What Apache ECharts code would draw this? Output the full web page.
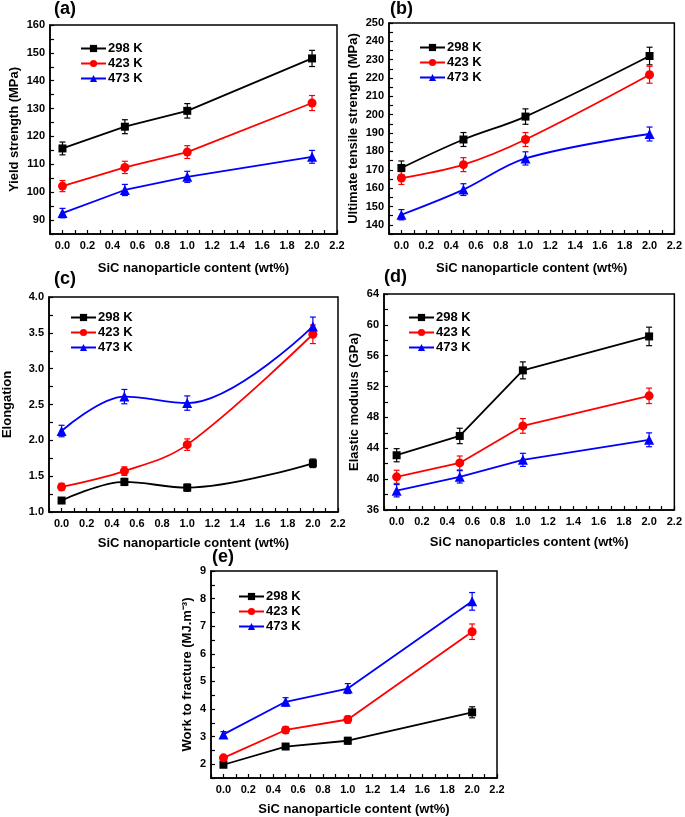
<!DOCTYPE html>
<html>
<head>
<meta charset="utf-8">
<script src="https://cdn.jsdelivr.net/npm/echarts@6/dist/echarts.min.js"></script>
<style>
  html, body { margin: 0; padding: 0; background: #fff; }
  #chart { width: 685px; height: 817px; }
</style>
</head>
<body>
<div id="chart"></div>
<script>
// SiC content (wt%) and the three test temperatures
var xVals = [0, 0.5, 1.0, 2.0];
var tempNames = ['298 K', '423 K', '473 K'];
var tempColors = ['#000000', '#ff0000', '#0000ff'];
var tempSymbols = ['rect', 'circle', 'triangle'];
var symbolSizes = [8, 9, 10];

// (a) yield strength, MPa
var yieldVals = [[115.7, 123.5, 129.2, 148.0], [102.2, 108.9, 114.4, 132.0], [92.5, 100.8, 105.5, 112.7]];
var yieldErr = [[2.3, 2.5, 2.6, 2.9], [2.0, 2.2, 2.3, 2.7], [1.7, 2.0, 2.0, 2.3]];
// (b) ultimate tensile strength, MPa
var utsVals = [[171.0, 186.5, 199.0, 232.0], [165.5, 172.8, 186.5, 221.8], [145.5, 159.2, 176.2, 189.5]];
var utsErr = [[3.8, 3.8, 4.2, 4.8], [3.5, 3.8, 3.8, 4.6], [2.8, 3.2, 3.6, 3.8]];
// (c) elongation
var elongVals = [[1.16, 1.42, 1.34, 1.68], [1.35, 1.57, 1.94, 3.48], [2.13, 2.61, 2.52, 3.59]];
var elongErr = [[0.04, 0.05, 0.05, 0.06], [0.05, 0.06, 0.08, 0.13], [0.08, 0.10, 0.10, 0.13]];
// (d) elastic modulus, GPa
var modVals = [[43.1, 45.6, 54.1, 58.5], [40.3, 42.1, 46.9, 50.8], [38.5, 40.3, 42.5, 45.1]];
var modErr = [[0.85, 1.0, 1.1, 1.2], [0.85, 0.9, 0.95, 1.0], [0.8, 0.8, 0.85, 0.9]];
// (e) work to fracture, MJ.m-3
var workVals = [[1.98, 2.64, 2.85, 3.88], [2.23, 3.24, 3.62, 6.80], [3.08, 4.26, 4.74, 7.90]];
var workErr = [[0.08, 0.10, 0.12, 0.20], [0.08, 0.12, 0.13, 0.28], [0.10, 0.15, 0.18, 0.32]];

var font = 'Liberation Sans, Arial, sans-serif';
var myChart = echarts.init(document.getElementById('chart'));

// error bar with small caps, drawn under the markers
function renderErr(params, api) {
    var x = api.value(0);
    var top = api.coord([x, api.value(2)]);
    var bot = api.coord([x, api.value(1)]);
    var w = 3;
    var style = { stroke: api.visual('color'), lineWidth: 1.2 };
    return {
        type: 'group',
        children: [
            { type: 'line', shape: { x1: top[0], y1: top[1], x2: bot[0], y2: bot[1] }, style: style },
            { type: 'line', shape: { x1: top[0] - w, y1: top[1], x2: top[0] + w, y2: top[1] }, style: style },
            { type: 'line', shape: { x1: bot[0] - w, y1: bot[1], x2: bot[0] + w, y2: bot[1] }, style: style }
        ]
    };
}

var grids = [], xAxes = [], yAxes = [], legends = [], lineSeries = [], errSeries = [], labels = [];

// one panel: grid box, axes, legend, three lines plus error bars
function addPanel(p) {
    var i = grids.length;
    grids.push({ left: p.box[0], top: p.box[1], width: p.box[2] - p.box[0], height: p.box[3] - p.box[1],
        show: true, borderColor: '#000', borderWidth: 1.5, backgroundColor: 'transparent' });
    xAxes.push({
        gridIndex: i, type: 'value', min: -0.1, max: 2.2, interval: 0.1,
        name: p.xName, nameLocation: 'middle', nameGap: p.xGap,
        nameTextStyle: { fontFamily: font, fontWeight: 'bold', fontSize: 13, color: '#000' },
        axisLine: { onZero: false, lineStyle: { color: '#000', width: 1.5 } },
        axisTick: { inside: true, length: 4, lineStyle: { width: 1.2 } },
        axisLabel: { fontFamily: font, fontWeight: 'bold', fontSize: 11, color: '#000', margin: 6,
            formatter: function (v) { var k = Math.round(v * 10); return (k >= 0 && k % 2 === 0) ? (k / 10).toFixed(1) : ''; } },
        splitLine: { show: false }
    });
    yAxes.push({
        gridIndex: i, type: 'value', min: p.yMin, max: p.yMax, interval: p.yStep / 2,
        name: p.yName, nameLocation: 'middle', nameGap: p.yGap,
        nameTextStyle: { fontFamily: font, fontWeight: 'bold', fontSize: 13, color: '#000' },
        axisLine: { onZero: false, lineStyle: { color: '#000', width: 1.5 } },
        axisTick: { inside: true, length: 4, lineStyle: { width: 1.2 } },
        axisLabel: { fontFamily: font, fontWeight: 'bold', fontSize: 11, color: '#000', margin: 5,
            formatter: function (v) {
                var k = Math.round(v / (p.yStep / 2));
                return k % 2 === 0 ? v.toFixed(p.dec) : '';
            } },
        splitLine: { show: false }
    });
    legends.push({
        data: tempNames, orient: 'vertical', left: p.legend[0], top: p.legend[1],
        itemWidth: 25, itemHeight: 9, itemGap: 2, selectedMode: false,
        textStyle: { fontFamily: font, fontWeight: 'bold', fontSize: 13, color: '#000', padding: [0, 0, 0, -3] }
    });
    for (var s = 0; s < 3; s++) {
        lineSeries.push({
            name: tempNames[s], type: 'line', xAxisIndex: i, yAxisIndex: i,
            data: xVals.map(function (x, j) { return [x, p.vals[s][j]]; }),
            smooth: p.smooth, symbol: tempSymbols[s], symbolSize: symbolSizes[s],
            itemStyle: { color: tempColors[s] }, lineStyle: { color: tempColors[s], width: 1.8 },
            z: 3, animation: false
        });
        errSeries.push({
            type: 'custom', xAxisIndex: i, yAxisIndex: i, renderItem: renderErr,
            itemStyle: { color: tempColors[s] },
            data: xVals.map(function (x, j) { return [x, p.vals[s][j] - p.err[s][j], p.vals[s][j] + p.err[s][j]]; }),
            z: 2, animation: false, silent: true
        });
    }
    labels.push({ type: 'text', left: p.tag[0], top: p.tag[1],
        style: { text: p.label, font: 'bold 18px ' + font, fill: '#000' } });
}

addPanel({ label: '(a)', tag: [54, 0], box: [50, 25, 337, 234], yMin: 85, yMax: 160, yStep: 10, dec: 0,
    yName: 'Yield strength (MPa)', yGap: 29, xName: 'SiC nanoparticle content (wt%)', xGap: 28,
    legend: [75, 37], vals: yieldVals, err: yieldErr, smooth: false });
addPanel({ label: '(b)', tag: [390, 0], box: [389, 23, 678, 234], yMin: 135, yMax: 250, yStep: 10, dec: 0,
    yName: 'Ultimate tensile strength (MPa)', yGap: 29, xName: 'SiC nanoparticle content (wt%)', xGap: 28,
    legend: [414, 36], vals: utsVals, err: utsErr, smooth: 0.35 });
addPanel({ label: '(c)', tag: [54, 270], box: [44, 297, 338, 512], yMin: 1.0, yMax: 4.0, yStep: 0.5, dec: 1,
    yName: 'Elongation', yGap: 35, xName: 'SiC nanoparticle content (wt%)', xGap: 25,
    legend: [65, 306], vals: elongVals, err: elongErr, smooth: 0.35 });
addPanel({ label: '(d)', tag: [384, 268], box: [384, 294, 676, 510], yMin: 36, yMax: 64, yStep: 4, dec: 0,
    yName: 'Elastic modulus (GPa)', yGap: 23, xName: 'SiC nanoparticles content (wt%)', xGap: 26,
    legend: [403, 306], vals: modVals, err: modErr, smooth: false });
addPanel({ label: '(e)', tag: [212, 548], box: [211, 571, 497, 782], yMin: 1.5, yMax: 9, yStep: 1, dec: 0,
    yName: 'Work to fracture (MJ.m\u207B\u00B3)', yGap: 17, xName: 'SiC nanoparticle content (wt%)', xGap: 25,
    legend: [233, 585], vals: workVals, err: workErr, smooth: false });

var option = {
    backgroundColor: '#fff',
    animation: false,
    grid: grids,
    xAxis: xAxes,
    yAxis: yAxes,
    legend: legends,
    series: lineSeries.concat(errSeries),
    graphic: labels
};
myChart.setOption(option);
</script>
</body>
</html>
